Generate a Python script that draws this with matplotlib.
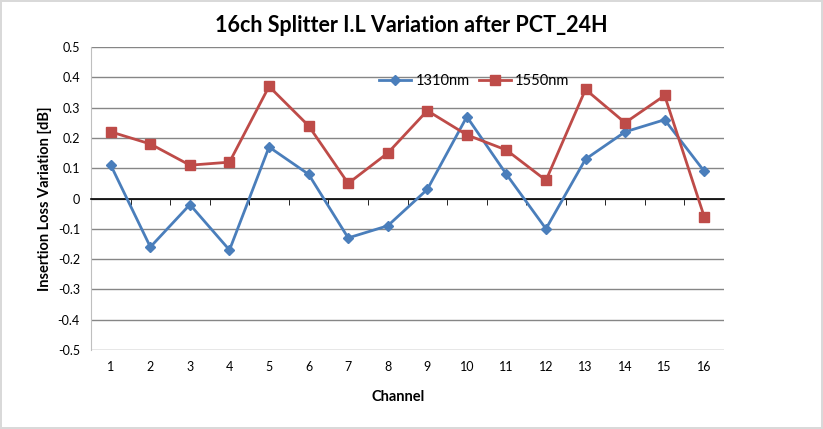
import matplotlib.pyplot as plt

channels = list(range(1, 17))
il_1310 = [0.11, -0.16, -0.02, -0.17, 0.17, 0.08, -0.13, -0.09, 0.03, 0.27, 0.08, -0.10, 0.13, 0.22, 0.26, 0.09]
il_1550 = [0.22, 0.18, 0.11, 0.12, 0.37, 0.24, 0.05, 0.15, 0.29, 0.21, 0.16, 0.06, 0.36, 0.25, 0.34, -0.06]
yticks = [-0.5, -0.4, -0.3, -0.2, -0.1, 0, 0.1, 0.2, 0.3, 0.4, 0.5]
ytick_labels = ['-0.5', '-0.4', '-0.3', '-0.2', '-0.1', '0', '0.1', '0.2', '0.3', '0.4', '0.5']

plt.rcParams['font.family'] = ['Lato', 'DejaVu Sans']

fig = plt.figure(figsize=(8.23, 4.29), dpi=100)
fig.patch.set_edgecolor('#d9d9d9')
fig.patch.set_linewidth(1.5)
ax = fig.add_axes([0.1106, 0.1841, 0.7691, 0.7063])

ax.plot(channels, il_1310, color='#4a7ebb', lw=2, marker='D', ms=5.5, label='1310nm', zorder=3)
ax.plot(channels, il_1550, color='#be4b48', lw=2, marker='s', ms=7, label='1550nm', zorder=3)

ax.set_xlim(0.5, 16.5)
ax.set_ylim(-0.5, 0.5)
ax.set_yticks(yticks)
ax.set_yticklabels(ytick_labels)
ax.yaxis.grid(True, color='#868686', lw=1)
ax.set_axisbelow(True)

for s in ['top', 'right']:
    ax.spines[s].set_visible(False)
ax.spines['left'].set_color('#bfbfbf')
ax.spines['bottom'].set_position(('data', 0))
ax.spines['bottom'].set_color('#000000')
ax.spines['bottom'].set_linewidth(1.2)

ax.set_xticks(channels)
ax.set_xticklabels([str(c) for c in channels])
ax.tick_params(axis='x', which='major', length=0, pad=117, labelsize=9)
ax.set_xticks([c + 0.5 for c in channels[:-1]], minor=True)
ax.tick_params(axis='x', which='minor', length=4, direction='out', color='#000000')
ax.tick_params(axis='y', length=0, pad=8, labelsize=9)

fig.text(0.5, 0.94, '16ch Splitter I.L Variation after PCT_24H', ha='center', va='center',
         fontsize=15.5, fontweight='bold')
fig.text(0.484, 0.075, 'Channel', ha='center', va='center', fontsize=10.5, fontweight='bold')
fig.text(0.055, 0.537, 'Insertion Loss Variation [dB]', ha='center', va='center',
         rotation=90, fontsize=10.5, fontweight='bold')

ax.legend(loc='center', bbox_to_anchor=(0.5765, 0.811), bbox_transform=fig.transFigure,
          ncol=2, frameon=False, fontsize=10.5, handlelength=2.2, columnspacing=0.6,
          handletextpad=0.3)

fig.savefig('out.png', dpi=100)
